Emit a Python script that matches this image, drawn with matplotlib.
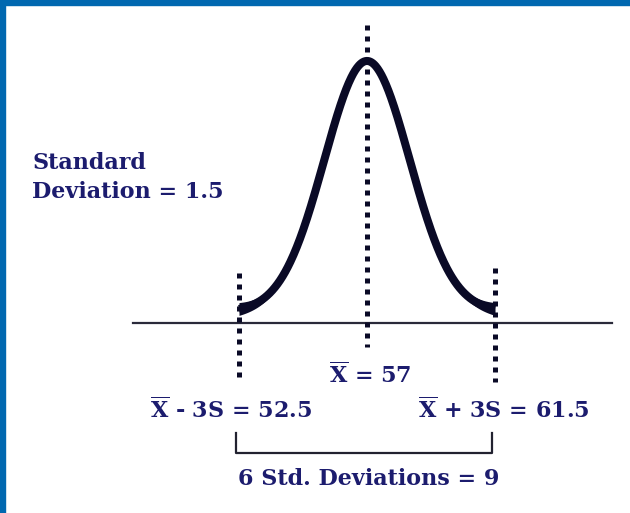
import numpy as np
import matplotlib
matplotlib.use("Agg")
import matplotlib.pyplot as plt
from matplotlib.patches import Rectangle

# process numbers
mean = 57.0
std_dev = 1.5
n_sigma = 3
low = mean - n_sigma * std_dev      # 52.5
high = mean + n_sigma * std_dev     # 61.5

label_sd = ["Standard", "Deviation = 1.5"]
label_mean = r"$\overline{\mathbf{X}}$ = 57"
label_low = r"$\overline{\mathbf{X}}$ - 3S = 52.5"
label_high = r"$\overline{\mathbf{X}}$ + 3S = 61.5"
label_span = "6 Std. Deviations = 9"

navy = "#1c1c6e"
ink = "#0a0a26"
blue = "#0068b0"

plt.rcParams["mathtext.fontset"] = "dejavuserif"
font = dict(family="DejaVu Serif", weight="bold", size=16, color=navy)

fig = plt.figure(figsize=(6.3, 5.13), dpi=100)
ax = fig.add_axes([0, 0, 1, 1])
ax.set_xlim(44.097, 66.246)
ax.set_ylim(-0.2015, 0.3425)
ax.axis("off")

# frame strips on top and left
fig.patches.append(Rectangle((0, 1 - 5 / 513), 1, 5 / 513, transform=fig.transFigure,
                             color=blue, zorder=0))
fig.patches.append(Rectangle((0, 0), 5 / 630, 1, transform=fig.transFigure,
                             color=blue, zorder=0))

# bell curve, lifted a bit off the axis line
lift = 0.0119
x = np.linspace(low, high, 400)
pdf = np.exp(-0.5 * ((x - mean) / std_dev) ** 2) / (std_dev * np.sqrt(2 * np.pi))
y = pdf + lift
ax.plot(x, y, color=ink, lw=5.8, solid_capstyle="butt", zorder=3)
# brush gets heavier toward the tails
half = 0.0068 * ((x - mean) / (n_sigma * std_dev)) ** 2
ax.fill_between(x, y - half, y + half, color=ink, lw=0, zorder=3)

# axis line
ax.plot([48.77, 65.61], [0, 0], color="#2a2a3a", lw=1.6, zorder=2)

# dotted markers
dots = dict(color=ink, lw=3.6, linestyle=(0, (1, 1.2)), zorder=4)
ax.plot([mean, mean], [0.316, -0.0255], **dots)
ax.plot([low, low], [0.053, -0.0583], **dots)
ax.plot([high, high], [0.0583, -0.0626], **dots)

# labels
ax.text(32 / 630, 1 - 169 / 513, label_sd[0], transform=ax.transAxes,
        ha="left", va="baseline", **font)
ax.text(32 / 630, 1 - 198 / 513, label_sd[1], transform=ax.transAxes,
        ha="left", va="baseline", **font)
ax.text(370 / 630, 1 - 383 / 513, label_mean, transform=ax.transAxes,
        ha="center", va="baseline", **font)
ax.text(150 / 630, 1 - 418 / 513, label_low, transform=ax.transAxes,
        ha="left", va="baseline", **font)
ax.text(418 / 630, 1 - 418 / 513, label_high, transform=ax.transAxes,
        ha="left", va="baseline", **font)

# bracket spanning the six deviations
yb_top = (323 - 433) / 943
yb_bot = (323 - 453) / 943
ax.plot([low - 0.1, low - 0.1, high - 0.1, high - 0.1],
        [yb_top, yb_bot, yb_bot, yb_top], color="#222230", lw=1.6, zorder=2)
ax.text(369 / 630, 1 - 485 / 513, label_span, transform=ax.transAxes,
        ha="center", va="baseline", **font)

fig.savefig("out.png", dpi=100, facecolor="white")
